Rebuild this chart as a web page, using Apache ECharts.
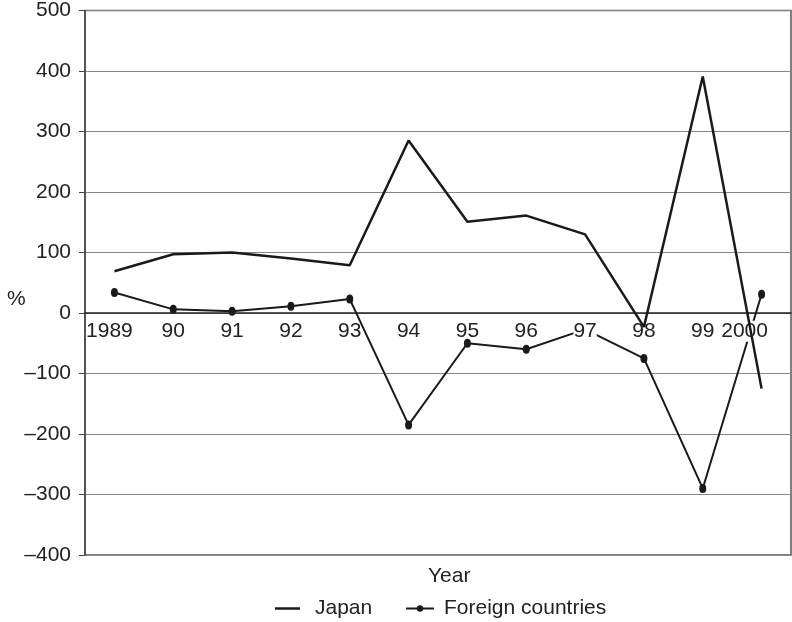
<!DOCTYPE html>
<html>
<head>
<meta charset="utf-8">
<script src="https://cdn.jsdelivr.net/npm/echarts@6/dist/echarts.min.js"></script>
<style>html,body{margin:0;padding:0;background:#fff}#c{width:792px;height:622px}</style>
</head>
<body>
<div id="c"></div>
<script>
const categories = ['1989','90','91','92','93','94','95','96','97','98','99','2000'];
const japan = [69, 97, 100, 90, 79, 285, 151, 161, 130, -23, 391, -125];
const foreign = [34, 6, 3, 11, 23, -185, -50, -60, -27, -75, -290, 31];
const yTicks = [-400, 500, 100];

const gridTop = 10, gridBottom = 67, H = 622;
const plotH = H - gridTop - gridBottom;
const zeroOffset = plotH * (0 - yTicks[0]) / (yTicks[1] - yTicks[0]);

const chart = echarts.init(document.getElementById('c'), null, {renderer: 'canvas'});
const font = '"Liberation Sans", Arial, sans-serif';
function fmtLabel(v) {
  if (v === '1989') return '{a|' + v + '}{s1|}';
  if (v === '2000') return '{b|' + v + '}{s2|}';
  if (v === '97') return '{b|' + v + '}';
  return '{a|' + v + '}';
}
chart.setOption({
  animation: false,
  backgroundColor: '#fff',
  textStyle: {fontFamily: font},
  grid: {left: 85, top: gridTop, right: 1, bottom: gridBottom, show: true, borderColor: '#555', borderWidth: 1.5, backgroundColor: 'transparent'},
  xAxis: {
    type: 'category', data: categories, boundaryGap: true, z: 10,
    position: 'bottom', offset: -zeroOffset,
    axisLine: {onZero: false, lineStyle: {color: '#222', width: 1.5}},
    axisTick: {inside: true, length: 5, lineStyle: {color: '#222'}},
    axisLabel: {
      fontSize: 21, color: '#222', margin: 8, fontFamily: font, interval: 0,
      formatter: fmtLabel,
      rich: {
        a: {fontSize: 21, color: '#222', fontFamily: font},
        b: {fontSize: 21, color: '#222', backgroundColor: '#fff', fontFamily: font},
        s1: {width: 10},
        s2: {width: 34}
      }
    }
  },
  yAxis: {
    type: 'value', min: yTicks[0], max: yTicks[1], interval: yTicks[2],
    axisLine: {show: true, lineStyle: {color: '#444', width: 1.5}},
    axisTick: {show: true, length: 6, lineStyle: {color: '#444'}},
    axisLabel: {fontSize: 21, color: '#222', margin: 14, fontFamily: font,
      formatter: v => v < 0 ? '\u2013' + Math.abs(v) : String(v)},
    splitLine: {show: true, lineStyle: {color: '#888', width: 1.2}}
  },
  legend: [
    {left: 275, top: 598, itemWidth: 25, itemHeight: 2.5, icon: 'rect', padding: 0,
      textStyle: {fontSize: 21, color: '#222', fontFamily: font, padding: [0, 0, 0, 10]},
      data: ['Japan']},
    {left: 405, top: 598, itemWidth: 28, itemHeight: 8, padding: 0,
      textStyle: {fontSize: 21, color: '#222', fontFamily: font, padding: [0, 0, 0, 5]},
      data: ['Foreign countries']}
  ],
  graphic: [
    {type: 'text', left: 7, top: 289, style: {text: '%', fill: '#222', font: '21px ' + font}},
    {type: 'text', left: 428, top: 566, style: {text: 'Year', fill: '#222', font: '21px ' + font}}
  ],
  series: [
    {name: 'Japan', type: 'line', data: japan, symbol: 'none', z: 20,
      lineStyle: {color: '#1a1a1a', width: 2.5}, itemStyle: {color: '#1a1a1a'}},
    {name: 'Foreign countries', type: 'line', data: foreign, z: 2,
      symbol: 'circle', symbolSize: [7, 9], showAllSymbol: true,
      lineStyle: {color: '#1a1a1a', width: 2}, itemStyle: {color: '#1a1a1a'}}
  ]
});
</script>
</body>
</html>
